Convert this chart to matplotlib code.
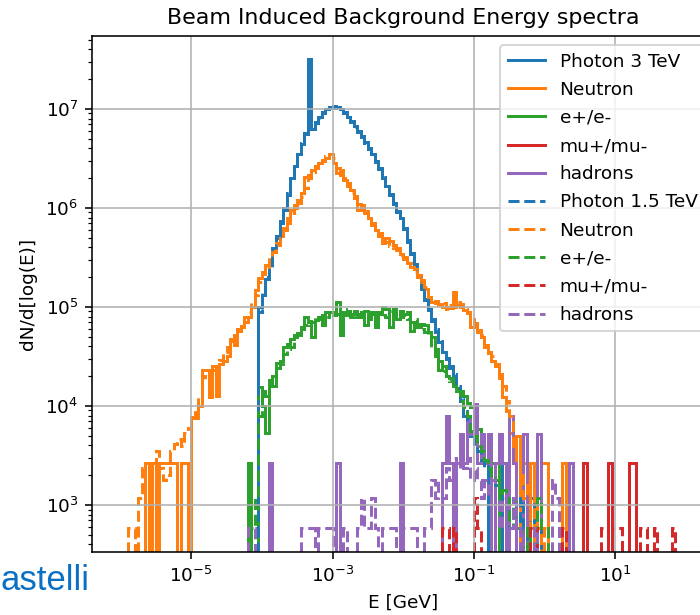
import numpy as np
import matplotlib
matplotlib.use('Agg')
import matplotlib.pyplot as plt
from matplotlib.ticker import NullLocator

plt.rcParams['font.size'] = 9.3

# energy bins: 20 per decade, 1e-6 .. 1e2 GeV
edges = np.logspace(-6, 2, 161)
nbins = len(edges) - 1

# height of one entry in each sample
unit_3tev = 2630
unit_15tev = 590

# --- 3 TeV sample (solid), log10 of bin content, first bin index given ---
photon3_start = 39
photon3_log = [5.0, 5.12, 5.28, 5.42, 5.58, 5.72, 5.85, 6.0, 6.13, 6.3, 6.42, 6.55, 6.65, 6.76, 7.5,
               6.8, 6.86, 6.92, 6.97, 7.0, 7.02, 7.02, 7.02,
               7.0, 6.97, 6.92, 6.87, 6.83, 6.78, 6.72, 6.67, 6.61, 6.55,
               6.47, 6.39, 6.3, 6.22, 6.14, 6.04, 5.96, 5.9, 5.8, 5.66,
               5.55, 5.42, 5.3, 5.2, 5.08, 4.97, 4.88, 4.75, 4.65, 4.55,
               4.47, 4.4, 4.3, 4.18, 4.05, 3.9, 3.88, 3.7, 3.88, 3.42,
               3.7, 3.42, 0, 3.42, 0, 0, 3.42]

neutron3_start = 7
neutron3_log = [3.42, 0, 3.42, 0, 3.42, 3.42, 3.42, 3.42, 3.42, 0, 3.42, 3.42, 0,
                3.88, 3.88, 4.0, 4.36, 4.36, 4.09, 4.4, 4.1, 4.42, 4.45, 4.5, 4.66, 4.62, 4.76,
                4.8, 4.85, 4.9, 5.0, 5.17,
                5.29, 5.35, 5.42, 5.47, 5.58, 5.65, 5.72, 5.8, 5.9, 5.98,
                6.03, 6.08, 6.15, 6.31, 6.3, 6.38, 6.4, 6.45, 6.47, 6.5,
                6.55, 6.45, 6.35, 6.38, 6.28, 6.22, 6.18, 6.1, 5.98, 6.03,
                5.95, 5.9, 5.85, 5.78, 5.72, 5.65, 5.7, 5.67, 5.63, 5.6,
                5.54, 5.5, 5.44, 5.44, 5.38, 5.3, 5.27, 5.18, 5.08, 5.05,
                5.04, 5.03, 5.0, 5.0, 4.99, 5.15, 5.02, 5.0, 4.97, 4.94,
                4.8, 4.84, 4.77, 4.7, 4.6, 4.54, 4.45, 4.4, 4.28, 4.09,
                3.95, 3.73, 3.42, 3.7, 0, 3.42, 0, 3.42, 0, 0,
                3.42, 3.42, 0, 0, 0, 0, 3.42]

electron3_start = 36
electron3_log = [3.42, 0, 0, 4.19, 4.0, 3.73, 4.26, 4.2, 4.43, 4.45, 4.6, 4.63, 4.68, 4.72, 4.74,
                 4.8, 4.9, 4.85, 4.7, 4.87, 4.9, 4.82, 4.95, 4.95, 4.92,
                 5.05, 4.72, 4.95, 4.96, 4.93, 4.96, 4.9, 4.95, 4.82, 4.92,
                 4.95, 4.8, 4.93, 5.0, 4.98, 4.8, 4.98, 4.88, 4.96, 4.93,
                 4.95, 4.76, 4.85, 4.8, 4.83, 4.82, 4.75, 4.7, 4.58, 4.36,
                 4.4, 4.3, 4.28, 4.2, 4.18, 4.15, 4.1, 4.03, 3.99, 3.88,
                 3.77, 3.7, 3.42, 3.7, 3.42, 0, 3.42, 3.42]

# sparse ones: bin index -> number of entries
muon3_n = {131: 1, 138: 1, 144: 1, 145: 1}
hadron3_n = {42: 1, 61: 1, 79: 1, 91: 1, 92: 3, 93: 1, 95: 1, 96: 2, 97: 1, 98: 3, 99: 2,
             100: 4, 101: 1, 102: 2, 103: 1, 104: 2, 106: 1, 107: 2, 108: 1, 110: 3,
             111: 1, 114: 2, 118: 2, 127: 1}

# --- 1.5 TeV sample (dashed) ---
photon15_start = 39
photon15_log = [4.95, 5.15, 5.3, 5.4, 5.6, 5.7, 5.87, 5.98, 6.15, 6.28, 6.43, 6.53, 6.66, 6.75, 7.45,
                6.8, 6.87, 6.91, 6.96, 7.0, 7.01, 7.03, 7.01, 7.0, 6.96,
                6.93, 6.88, 6.82, 6.77, 6.73, 6.66, 6.6, 6.54, 6.46, 6.4,
                6.31, 6.21, 6.13, 6.05, 5.97, 5.88, 5.79, 5.68, 5.53, 5.43,
                5.32, 5.18, 5.07, 4.98, 4.86, 4.78, 4.66, 4.56, 4.48, 4.38,
                4.32, 4.2, 4.08, 3.95, 3.85, 3.75, 3.6, 3.55, 3.45, 3.37,
                3.3, 3.25, 3.2, 3.07, 3.15, 3.07, 2.77, 3.07, 2.77, 3.07,
                2.77, 0, 3.07, 2.77, 2.77]

neutron15_start = 2
neutron15_log = [2.77, 2.77, 0, 3.07, 3.37, 3.37, 3.25, 3.37, 3.55, 3.37, 3.25, 3.3, 3.55, 3.62,
                 3.67, 3.6, 3.73, 3.78,
                 3.89, 3.97, 4.1, 4.3, 4.25, 4.3, 4.36, 4.38, 4.46, 4.55, 4.6, 4.68, 4.72,
                 4.78, 4.83, 4.9, 4.95, 5.05, 5.12,
                 5.25, 5.33, 5.4, 5.5, 5.56, 5.63, 5.7, 5.78, 5.85, 5.95,
                 6.0, 6.05, 6.11, 6.2, 6.33, 6.36, 6.42, 6.44, 6.48, 6.52,
                 6.55, 6.5, 6.4, 6.33, 6.3, 6.25, 6.15, 6.12, 6.04, 5.98,
                 5.97, 5.88, 5.83, 5.8, 5.75, 5.7, 5.66, 5.62, 5.6, 5.58,
                 5.52, 5.48, 5.46, 5.4, 5.35, 5.32, 5.25, 5.2, 5.1, 5.08,
                 5.06, 5.02, 5.04, 4.98, 5.02, 5.0, 5.05, 5.03, 4.98, 4.95,
                 4.88, 4.82, 4.75, 4.72, 4.62, 4.55, 4.5, 4.42, 4.32, 4.2,
                 4.05, 3.9, 3.6, 3.45, 3.3, 3.07, 3.25, 2.77, 3.07, 2.77,
                 0, 2.77]

electron15_start = 37
electron15_log = [2.77, 3.07, 3.9, 4.15, 4.1, 4.2, 4.3, 4.38, 4.42, 4.52, 4.58, 4.6, 4.7, 4.72,
                  4.78, 4.82, 4.86, 4.85, 4.9, 4.88, 4.92, 4.9, 4.95, 4.97,
                  4.93, 4.95, 4.92, 4.98, 4.9, 4.95, 4.93, 4.9, 4.96, 4.88,
                  4.93, 4.9, 4.95, 4.92, 4.9, 4.96, 4.92, 4.94, 4.9, 4.92,
                  4.88, 4.85, 4.88, 4.83, 4.78, 4.75, 4.7, 4.6, 4.5, 4.45,
                  4.35, 4.3, 4.25, 4.2, 4.15, 4.05, 3.99, 3.9, 3.75, 3.7,
                  3.6, 3.55, 3.45, 3.37, 3.3, 3.25, 3.07, 3.15, 3.07, 2.77,
                  3.07, 2.77, 2.77, 0, 2.77, 0, 0, 3.07, 2.77, 2.77]

muon15_n = {91: 1, 92: 1, 94: 1, 100: 2, 101: 1, 116: 1, 117: 1, 125: 1, 136: 1, 137: 1,
            139: 1, 140: 1, 141: 1, 147: 1, 148: 1, 151: 1, 156: 1}
hadron15_n = {36: 1, 37: 1, 51: 1, 52: 1, 53: 1, 54: 1, 56: 1, 57: 1, 58: 1, 59: 1, 63: 1,
              67: 1, 68: 2, 69: 1, 70: 1, 71: 2, 72: 1, 74: 1, 75: 1, 76: 1, 77: 1, 80: 1,
              81: 1, 82: 1, 83: 1, 86: 1, 87: 1, 88: 3, 89: 2, 90: 3, 91: 2, 92: 4, 93: 3,
              94: 5, 95: 4, 96: 6, 97: 4, 98: 5, 99: 3, 100: 4, 101: 3, 102: 2, 103: 3,
              104: 2, 105: 3, 106: 2, 107: 1, 108: 2, 109: 1, 110: 1, 111: 2, 113: 1,
              117: 1, 122: 3, 123: 2}


def from_log(start, logs):
    v = np.zeros(nbins)
    for k, L in enumerate(logs):
        if L > 0:
            v[start + k] = 10 ** L
    return v


def from_counts(d, unit):
    v = np.zeros(nbins)
    for i, n in d.items():
        v[i] = n * unit
    return v


solid = [
    (from_log(photon3_start, photon3_log), 'Photon 3 TeV'),
    (from_log(neutron3_start, neutron3_log), 'Neutron'),
    (from_log(electron3_start, electron3_log), 'e+/e-'),
    (from_counts(muon3_n, unit_3tev), 'mu+/mu-'),
    (from_counts(hadron3_n, unit_3tev), 'hadrons'),
]
dashed = [
    (from_log(photon15_start, photon15_log), 'Photon 1.5 TeV'),
    (from_log(neutron15_start, neutron15_log), 'Neutron'),
    (from_log(electron15_start, electron15_log), 'e+/e-'),
    (from_counts(muon15_n, unit_15tev), 'mu+/mu-'),
    (from_counts(hadron15_n, unit_15tev), 'hadrons'),
]

dpi = 143
fig = plt.figure(figsize=(700 / dpi, 615 / dpi), dpi=dpi)
ax = fig.add_axes([92.3 / 700, 1 - 551.7 / 615, (714 - 92.3) / 700, (551.7 - 36) / 615])
ax.set_xscale('log')
ax.set_yscale('log')

for k, (vals, lab) in enumerate(solid):
    ax.stairs(vals, edges, color='C%d' % k, linewidth=1.5, label=lab)
for k, (vals, lab) in enumerate(dashed):
    ax.stairs(vals, edges, color='C%d' % k, linewidth=1.5, linestyle='--', label=lab)

ax.set_xlim(10 ** -6.4, 10 ** 2.4)
ax.set_ylim(10 ** 2.528, 10 ** 7.737)
ax.set_xticks([1e-5, 1e-3, 1e-1, 1e1])
ax.xaxis.set_minor_locator(NullLocator())
ax.grid(True)
ax.set_title('Beam Induced Background Energy spectra')
ax.set_xlabel('E [GeV]')
ax.set_ylabel('dN/d[log(E)]')
ax.legend(loc='upper right', labelspacing=0.55)

fig.text(0.0, 1 - 590 / 615, 'astelli', fontsize=17.5, color='#0b6fc4',
         family='Liberation Sans', va='baseline', ha='left')

fig.savefig('out.png', dpi=dpi)
